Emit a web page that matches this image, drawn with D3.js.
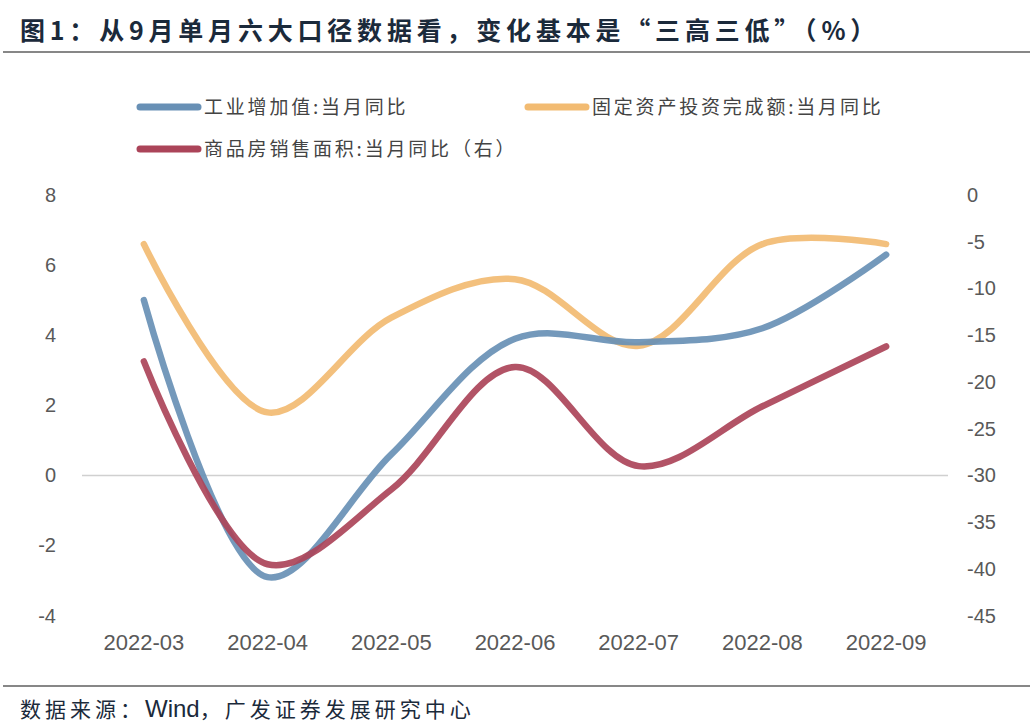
<!DOCTYPE html>
<html>
<head>
<meta charset="utf-8">
<script src="https://cdn.jsdelivr.net/npm/d3@7"></script>
<style>
  body { margin: 0; background: #fff; }
  svg { display: block; }
</style>
</head>
<body>
<svg id="chart"></svg>
<script>
const width = 1033;
const height = 727;

const months = ['2022-03', '2022-04', '2022-05', '2022-06', '2022-07', '2022-08', '2022-09'];
const industry = [5.0, -2.9, 0.6, 3.9, 3.8, 4.2, 6.3];       // 工业增加值:当月同比 (left)
const fai = [6.6, 1.8, 4.5, 5.6, 3.7, 6.6, 6.6];             // 固定资产投资完成额:当月同比 (left)
const houseSales = [-17.8, -39.5, -31.5, -18.4, -29.0, -22.6, -16.2]; // 商品房销售面积:当月同比 (right)
const leftTicks = [8, 6, 4, 2, 0, -2, -4];
const rightTicks = [0, -5, -10, -15, -20, -25, -30, -35, -40, -45];

const cjk = '"Noto Sans CJK SC", "Noto Sans", sans-serif';
const latin = '"Liberation Sans", Arial, sans-serif';

const svg = d3.select('#chart')
  .attr('width', width)
  .attr('height', height);

// title + rules
svg.append('text')
  .attr('x', 20)
  .attr('y', 40)
  .style('font-family', cjk)
  .style('font-size', '25px')
  .style('font-weight', 'bold')
  .style('letter-spacing', '4.8px')
  .style('fill', '#1b2a3b')
  .text('图1：从9月单月六大口径数据看，变化基本是“三高三低”（%）');

svg.append('line')
  .attr('x1', 3).attr('x2', 1030)
  .attr('y1', 52).attr('y2', 52)
  .attr('stroke', '#111').attr('stroke-width', 1.2);

svg.append('line')
  .attr('x1', 3).attr('x2', 1030)
  .attr('y1', 686).attr('y2', 686)
  .attr('stroke', '#111').attr('stroke-width', 1.2);

const source = svg.append('text')
  .attr('x', 20)
  .attr('y', 717)
  .style('font-family', cjk)
  .style('font-size', '21px')
  .style('letter-spacing', '4px')
  .style('fill', '#1b2a3b');
source.append('tspan').text('数据来源：');
source.append('tspan').style('font-family', latin).style('font-size', '24px').style('letter-spacing', '0px').text('Wind');
source.append('tspan').text('，广发证券发展研究中心');

// scales
const x = d3.scaleBand()
  .domain(months)
  .range([82, 948]);

const yLeft = d3.scaleLinear()
  .domain([-4, 8])
  .range([615.7, 195]);

const yRight = d3.scaleLinear()
  .domain([-45, 0])
  .range([615.7, 195]);

const cx = d => x(d) + x.bandwidth() / 2;

// zero line
svg.append('line')
  .attr('x1', 82).attr('x2', 948)
  .attr('y1', yLeft(0)).attr('y2', yLeft(0))
  .attr('stroke', '#d0d0d0').attr('stroke-width', 1.5);

// axes
const axisStyle = g => {
  g.select('.domain').remove();
  g.selectAll('line').remove();
  g.selectAll('text')
    .style('font-family', latin)
    .style('fill', '#595959');
};

svg.append('g')
  .attr('transform', 'translate(56,0)')
  .call(d3.axisLeft(yLeft).tickValues(leftTicks).tickFormat(d => String(d)).tickSize(0).tickPadding(0))
  .call(axisStyle)
  .selectAll('text').style('font-size', '20px');

svg.append('g')
  .attr('transform', 'translate(967,0)')
  .call(d3.axisRight(yRight).tickValues(rightTicks).tickFormat(d => String(d)).tickSize(0).tickPadding(0))
  .call(axisStyle)
  .selectAll('text').style('font-size', '20px');

svg.append('g')
  .attr('transform', 'translate(0,628)')
  .call(d3.axisBottom(x).tickSize(0).tickPadding(6))
  .call(axisStyle)
  .selectAll('text').style('font-size', '22px');

// series
const series = [
  { name: '固定资产投资完成额:当月同比', values: fai, y: yLeft, color: '#f2bb72' },
  { name: '工业增加值:当月同比', values: industry, y: yLeft, color: '#6890b5' },
  { name: '商品房销售面积:当月同比（右）', values: houseSales, y: yRight, color: '#ab4459' }
];

series.forEach(s => {
  const line = d3.line()
    .x((d, i) => cx(months[i]))
    .y(d => s.y(d))
    .curve(d3.curveCatmullRom.alpha(0.5));

  svg.append('path')
    .datum(s.values)
    .attr('d', line)
    .attr('fill', 'none')
    .attr('stroke', s.color)
    .attr('stroke-width', 6.5)
    .attr('stroke-linecap', 'round')
    .attr('stroke-opacity', 0.92);
});

// legend
const legendItems = [
  { label: series[1].name, color: series[1].color, x: 140, y: 107 },
  { label: series[0].name, color: series[0].color, x: 528, y: 107 },
  { label: series[2].name, color: series[2].color, x: 140, y: 149 }
];

const legend = svg.append('g');
legendItems.forEach(d => {
  legend.append('line')
    .attr('x1', d.x).attr('x2', d.x + 58)
    .attr('y1', d.y).attr('y2', d.y)
    .attr('stroke', d.color)
    .attr('stroke-width', 7)
    .attr('stroke-linecap', 'round');
  legend.append('text')
    .attr('x', d.x + 64)
    .attr('y', d.y + 7)
    .style('font-family', cjk)
    .style('font-size', '19px')
    .style('letter-spacing', '2.8px')
    .style('fill', '#444')
    .text(d.label);
});
</script>
</body>
</html>
